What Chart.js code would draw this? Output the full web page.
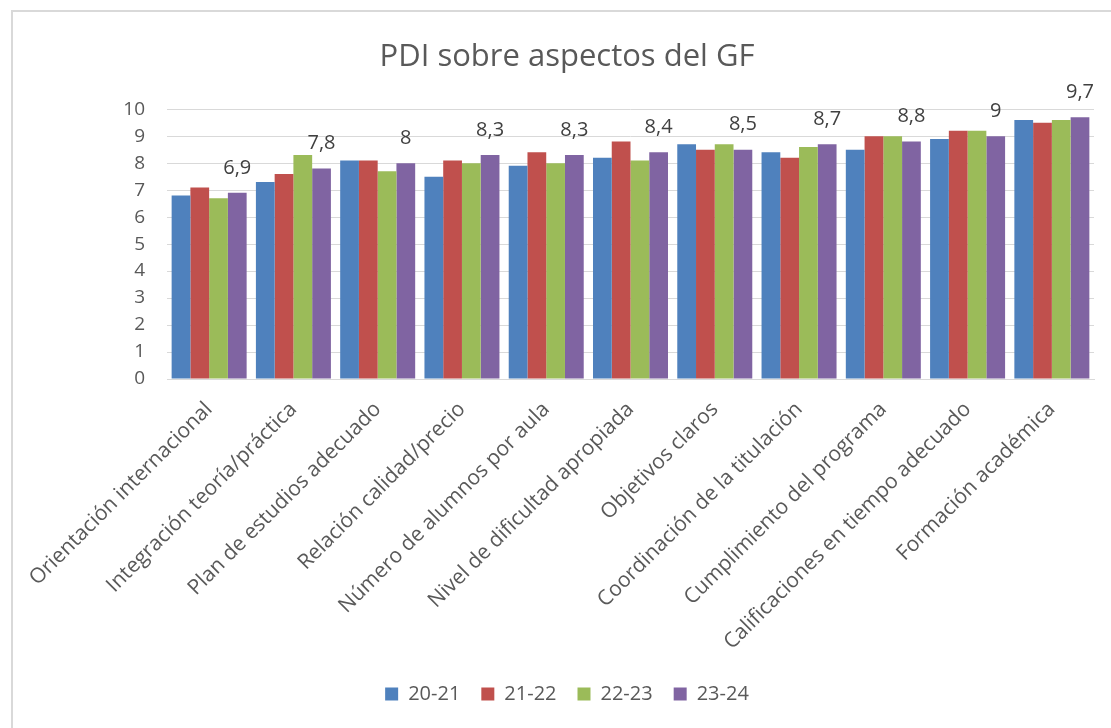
<!DOCTYPE html>
<html>
<head>
<meta charset="utf-8">
<script src="https://cdn.jsdelivr.net/npm/chart.js@4.4.1/dist/chart.umd.min.js"></script>
<style>
  html, body { margin: 0; padding: 0; background: #ffffff; overflow: hidden; }
  #frame { position: absolute; left: 11px; top: 10px; width: 1200px; height: 800px; border: 2px solid #d9d9d9; box-sizing: border-box; }
  #wrap { position: absolute; left: 0; top: 0; width: 1111px; height: 728px; }
</style>
</head>
<body>
<div id="frame"></div>
<div id="wrap"><canvas id="c"></canvas></div>
<script>
const categories = [
  "Orientación internacional",
  "Integración teoría/práctica",
  "Plan de estudios adecuado",
  "Relación calidad/precio",
  "Número de alumnos por aula",
  "Nivel de dificultad apropiada",
  "Objetivos claros",
  "Coordinación de la titulación",
  "Cumplimiento del programa",
  "Calificaciones en tiempo adecuado",
  "Formación académica"
];
const seriesNames = ["20-21", "21-22", "22-23", "23-24"];
const s2021 = [6.8, 7.3, 8.1, 7.5, 7.9, 8.2, 8.7, 8.4, 8.5, 8.9, 9.6];
const s2122 = [7.1, 7.6, 8.1, 8.1, 8.4, 8.8, 8.5, 8.2, 9.0, 9.2, 9.5];
const s2223 = [6.7, 8.3, 7.7, 8.0, 8.0, 8.1, 8.7, 8.6, 9.0, 9.2, 9.6];
const s2324 = [6.9, 7.8, 8.0, 8.3, 8.3, 8.4, 8.5, 8.7, 8.8, 9.0, 9.7];
const yTicks = [0, 1, 2, 3, 4, 5, 6, 7, 8, 9, 10];

const colors = ["#4F81BD", "#C0504D", "#9BBB59", "#8064A2"];
const FONT = "'Open Sans', 'Liberation Sans', sans-serif";

const labelPlugin = {
  id: 'lastSeriesLabels',
  afterDatasetsDraw(chart) {
    const ctx = chart.ctx;
    const meta = chart.getDatasetMeta(3);
    const data = chart.data.datasets[3].data;
    ctx.save();
    ctx.font = "20px " + FONT;
    ctx.fillStyle = "#404040";
    ctx.textAlign = "center";
    ctx.textBaseline = "middle";
    meta.data.forEach((bar, i) => {
      const txt = String(data[i]).replace('.', ',');
      ctx.fillText(txt, bar.x, bar.y - 25);
    });
    ctx.restore();
  }
};

new Chart(document.getElementById('c'), {
  type: 'bar',
  data: {
    labels: categories,
    datasets: [
      { label: seriesNames[0], data: s2021, backgroundColor: colors[0] },
      { label: seriesNames[1], data: s2122, backgroundColor: colors[1] },
      { label: seriesNames[2], data: s2223, backgroundColor: colors[2] },
      { label: seriesNames[3], data: s2324, backgroundColor: colors[3] }
    ]
  },
  options: {
    responsive: true,
    maintainAspectRatio: false,
    animation: false,
    datasets: { bar: { barPercentage: 1.0, categoryPercentage: 0.89 } },
    layout: { padding: { left: 40, right: 17, top: 10, bottom: 14 } },
    plugins: {
      title: {
        display: true,
        text: "PDI sobre aspectos del GF",
        color: "#595959",
        font: { family: FONT, size: 31, weight: 'normal' },
        padding: { top: 29, bottom: 33 }
      },
      legend: {
        position: 'bottom',
        labels: {
          boxWidth: 13, boxHeight: 13, padding: 21,
          color: "#595959",
          font: { family: FONT, size: 20 }
        }
      },
      tooltip: { enabled: false }
    },
    scales: {
      y: {
        min: 0, max: 10,
        afterBuildTicks: (s) => { s.ticks = yTicks.map(v => ({ value: v })); },
        afterFit: (s) => { s.width = 127; },
        ticks: { color: "#595959", font: { family: FONT, size: 19 }, padding: 22 },
        grid: { color: "#d9d9d9", drawTicks: false, lineWidth: 1 },
        border: { display: false }
      },
      x: {
        afterFit: (s) => { s.height = 284; },
        grid: { display: false },
        border: { color: "#d9d9d9", width: 1 },
        ticks: { color: "#595959", font: { family: FONT, size: 21 }, minRotation: 45, maxRotation: 45, padding: 10, autoSkip: false }
      }
    }
  },
  plugins: [labelPlugin]
});
</script>
</body>
</html>
